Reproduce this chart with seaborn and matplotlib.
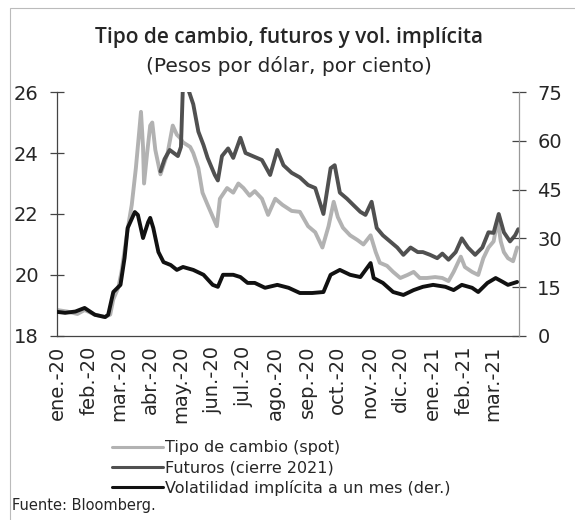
import matplotlib
matplotlib.use("Agg")
import matplotlib.pyplot as plt
from matplotlib.lines import Line2D
from matplotlib.patches import Rectangle
import pandas as pd
import seaborn as sns

# Tipo de cambio (spot), pesos por dolar
spot_dates = ["2020-01-01", "2020-01-11", "2020-01-21", "2020-01-28", "2020-02-07", "2020-02-17",
              "2020-02-22", "2020-02-25", "2020-03-01", "2020-03-04", "2020-03-07", "2020-03-10",
              "2020-03-14", "2020-03-18", "2020-03-21", "2020-03-23", "2020-03-25", "2020-03-26",
              "2020-03-29", "2020-04-01", "2020-04-03", "2020-04-06", "2020-04-11", "2020-04-15",
              "2020-04-18", "2020-04-23", "2020-04-27", "2020-04-30", "2020-05-03", "2020-05-10",
              "2020-05-13", "2020-05-18", "2020-05-22", "2020-05-27", "2020-06-05", "2020-06-08",
              "2020-06-15", "2020-06-21", "2020-06-26", "2020-07-01", "2020-07-07", "2020-07-12",
              "2020-07-19", "2020-07-25", "2020-08-01", "2020-08-08", "2020-08-17", "2020-08-25",
              "2020-09-02", "2020-09-09", "2020-09-16", "2020-09-22", "2020-09-27", "2020-10-01",
              "2020-10-06", "2020-10-13", "2020-10-20", "2020-10-26", "2020-11-02", "2020-11-07",
              "2020-11-11", "2020-11-18", "2020-11-24", "2020-12-01", "2020-12-08", "2020-12-14",
              "2020-12-20", "2020-12-27", "2021-01-04", "2021-01-11", "2021-01-17", "2021-01-22",
              "2021-01-29", "2021-02-02", "2021-02-09", "2021-02-15", "2021-02-20", "2021-02-25",
              "2021-03-02", "2021-03-06", "2021-03-09", "2021-03-12", "2021-03-16", "2021-03-21",
              "2021-03-25"]
spot_vals = [18.85, 18.80, 18.72, 18.85, 18.70, 18.62,
             18.70, 19.20, 19.60, 20.10, 20.80, 21.50,
             22.30, 23.50, 24.60, 25.35, 24.20, 23.00,
             24.00, 24.90, 25.00, 24.10, 23.30, 23.70,
             24.00, 24.90, 24.60, 24.50, 24.35, 24.20,
             24.00, 23.50, 22.70, 22.30, 21.60, 22.50,
             22.85, 22.70, 23.00, 22.85, 22.60, 22.75,
             22.50, 21.97, 22.50, 22.30, 22.10, 22.07,
             21.60, 21.40, 20.90, 21.60, 22.40, 21.90,
             21.55, 21.30, 21.15, 21.00, 21.30, 20.75,
             20.40, 20.30, 20.10, 19.90, 20.00, 20.10,
             19.90, 19.90, 19.93, 19.90, 19.80, 20.10,
             20.60, 20.26, 20.10, 20.00, 20.55, 20.90,
             21.10, 21.80, 21.10, 20.75, 20.55, 20.45,
             20.90]

# Futuros (cierre 2021), pesos por dolar
fut_dates = ["2020-04-11", "2020-04-15", "2020-04-20", "2020-04-28", "2020-05-01", "2020-05-03",
             "2020-05-07", "2020-05-10", "2020-05-13", "2020-05-18", "2020-05-23", "2020-05-27",
             "2020-06-03", "2020-06-06", "2020-06-10", "2020-06-16", "2020-06-21", "2020-06-28",
             "2020-07-03", "2020-07-12", "2020-07-19", "2020-07-27", "2020-08-03", "2020-08-09",
             "2020-08-17", "2020-08-25", "2020-09-02", "2020-09-09", "2020-09-17", "2020-09-24",
             "2020-09-28", "2020-10-03", "2020-10-10", "2020-10-16", "2020-10-23", "2020-10-28",
             "2020-11-03", "2020-11-08", "2020-11-14", "2020-11-21", "2020-11-28", "2020-12-04",
             "2020-12-11", "2020-12-18", "2020-12-23", "2020-12-30", "2021-01-06", "2021-01-11",
             "2021-01-17", "2021-01-24", "2021-01-30", "2021-02-05", "2021-02-12", "2021-02-19",
             "2021-02-25", "2021-03-02", "2021-03-07", "2021-03-12", "2021-03-18", "2021-03-23",
             "2021-03-26"]
fut_vals = [23.40, 23.80, 24.10, 23.90, 24.20, 26.30,
            26.20, 25.90, 25.60, 24.70, 24.26, 23.84,
            23.28, 23.10, 23.90, 24.15, 23.84, 24.50,
            24.00, 23.87, 23.77, 23.28, 24.10, 23.60,
            23.35, 23.20, 22.95, 22.85, 22.00, 23.50,
            23.60, 22.70, 22.50, 22.30, 22.07, 21.97,
            22.40, 21.54, 21.30, 21.10, 20.90, 20.66,
            20.90, 20.75, 20.75, 20.66, 20.55, 20.70,
            20.50, 20.75, 21.20, 20.90, 20.66, 20.90,
            21.40, 21.38, 22.00, 21.40, 21.10, 21.30,
            21.50]

# Volatilidad implicita a un mes, por ciento (eje derecho)
vol_dates = ["2020-01-01", "2020-01-09", "2020-01-19", "2020-01-28", "2020-02-07", "2020-02-17",
             "2020-02-20", "2020-02-25", "2020-03-03", "2020-03-07", "2020-03-10", "2020-03-14",
             "2020-03-17", "2020-03-20", "2020-03-25", "2020-03-30", "2020-04-01", "2020-04-04",
             "2020-04-09", "2020-04-14", "2020-04-21", "2020-04-27", "2020-05-03", "2020-05-13",
             "2020-05-23", "2020-06-01", "2020-06-06", "2020-06-11", "2020-06-21", "2020-06-28",
             "2020-07-05", "2020-07-12", "2020-07-22", "2020-08-03", "2020-08-14", "2020-08-25",
             "2020-09-06", "2020-09-17", "2020-09-24", "2020-10-03", "2020-10-13", "2020-10-23",
             "2020-11-02", "2020-11-05", "2020-11-14", "2020-11-24", "2020-12-04", "2020-12-14",
             "2020-12-23", "2021-01-02", "2021-01-14", "2021-01-22", "2021-01-30", "2021-02-09",
             "2021-02-15", "2021-02-24", "2021-03-04", "2021-03-11", "2021-03-16", "2021-03-25"]
vol_vals = [7.4, 7.1, 7.5, 8.6, 6.5, 5.8,
            6.5, 13.5, 15.7, 24.0, 33.2, 36.0,
            38.1, 37.2, 30.1, 35.0, 36.3, 33.2,
            25.8, 22.7, 21.8, 20.3, 21.2, 20.3,
            18.8, 15.7, 15.1, 18.8, 18.8, 18.1,
            16.3, 16.3, 14.8, 15.7, 14.8, 13.2,
            13.2, 13.5, 18.8, 20.3, 18.8, 18.1,
            22.4, 17.8, 16.3, 13.5, 12.6, 14.1,
            15.1, 15.7, 15.1, 14.1, 15.7, 14.8,
            13.5, 16.3, 17.8, 16.6, 15.7, 16.6]

month_labels = ["ene.-20", "feb.-20", "mar.-20", "abr.-20", "may.-20", "jun.-20", "jul.-20",
                "ago.-20", "sep.-20", "oct.-20", "nov.-20", "dic.-20", "ene.-21", "feb.-21",
                "mar.-21"]
left_ticks = [18, 20, 22, 24, 26]
right_ticks = [0, 15, 30, 45, 60, 75]

spot = pd.DataFrame({"fecha": pd.to_datetime(spot_dates), "valor": spot_vals})
fut = pd.DataFrame({"fecha": pd.to_datetime(fut_dates), "valor": fut_vals})
vol = pd.DataFrame({"fecha": pd.to_datetime(vol_dates), "valor": vol_vals})

sns.set_style("white")
plt.rcParams["font.family"] = ["DejaVu Sans"]

c_spot = "#b2b2b2"
c_fut = "#505050"
c_vol = "#111111"

fig = plt.figure(figsize=(5.75, 5.2), dpi=100)
ax = fig.add_axes([0.099, 0.354, 0.804, 0.469])
ax2 = ax.twinx()

sns.lineplot(data=spot, x="fecha", y="valor", ax=ax, color=c_spot, lw=2.8)
sns.lineplot(data=fut, x="fecha", y="valor", ax=ax, color=c_fut, lw=2.8)
sns.lineplot(data=vol, x="fecha", y="valor", ax=ax2, color=c_vol, lw=2.8)

ax.set_ylim(18, 26)
ax2.set_ylim(0, 75)
ax.set_xlim(pd.Timestamp("2020-01-01"), pd.Timestamp("2021-03-27"))
ax.set_yticks(left_ticks)
ax2.set_yticks(right_ticks)

ticks = pd.date_range("2020-01-01", periods=len(month_labels), freq="MS")
ax.set_xticks(ticks)
ax.set_xticklabels(month_labels, rotation=90)

for a in (ax, ax2):
    a.set_xlabel("")
    a.set_ylabel("")
    a.spines["top"].set_visible(False)
    for s in ("left", "right", "bottom"):
        a.spines[s].set_color("#444444")
        a.spines[s].set_linewidth(0.9)

ax.tick_params(axis="y", direction="inout", length=10, width=0.9,
               color="#444444", labelsize=14, pad=8)
ax2.tick_params(axis="y", direction="inout", length=10, width=0.9,
                color="#444444", labelsize=14, pad=8)
ax.tick_params(axis="x", direction="inout", length=8, width=0.9,
               color="#444444", labelsize=14, pad=3)
ax.spines["right"].set_visible(False)
ax2.spines["left"].set_visible(False)
ax2.spines["bottom"].set_visible(False)
ax2.spines["right"].set_color("#999999")

fig.text(0.503, 0.928, "Tipo de cambio, futuros y vol. implícita", ha="center", va="center",
         fontsize=15, fontweight="semibold", family=["Open Sans", "DejaVu Sans"])
fig.text(0.503, 0.873, "(Pesos por dólar, por ciento)", ha="center", va="center", fontsize=14.5)

handles = [Line2D([], [], color=c_spot, lw=2.2),
           Line2D([], [], color=c_fut, lw=2.2),
           Line2D([], [], color=c_vol, lw=2.2)]
labels = ["Tipo de cambio (spot)", "Futuros (cierre 2021)", "Volatilidad implícita a un mes (der.)"]
fig.legend(handles, labels, loc="upper left", bbox_to_anchor=(0.195, 0.153),
           frameon=False, fontsize=11.5, handlelength=3.2, handletextpad=0.1,
           labelspacing=0.3, borderpad=0, borderaxespad=0)

fig.text(0.021, 0.027, "Fuente: Bloomberg.", ha="left", va="center", fontsize=10.5)

fig.patches.append(Rectangle((0.017, -0.1), 1.2, 1.085, transform=fig.transFigure,
                             fill=False, edgecolor="#bbbbbb", lw=0.8))

fig.savefig("out.png", dpi=100)
